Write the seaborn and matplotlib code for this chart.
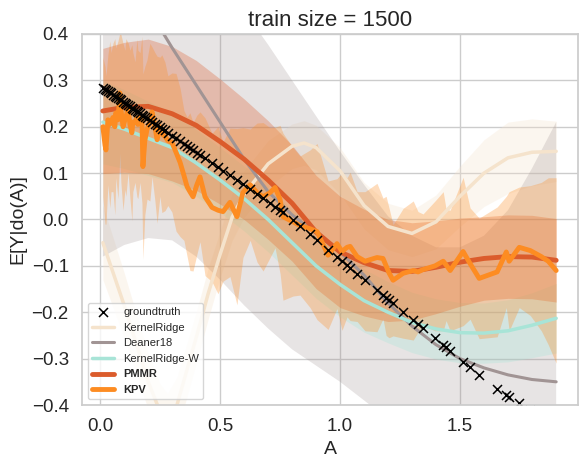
import numpy as np
import matplotlib
matplotlib.use("Agg")
import matplotlib.pyplot as plt
import seaborn as sns

# ---------------- data ----------------
# test points (shared by groundtruth and KPV)
A = [0.011, 0.020, 0.024, 0.032, 0.040, 0.045, 0.053, 0.061, 0.065, 0.074,
     0.082, 0.086, 0.095, 0.103, 0.107, 0.116, 0.124, 0.132, 0.136, 0.145,
     0.153, 0.157, 0.166, 0.174, 0.178, 0.186, 0.195, 0.207, 0.216, 0.228,
     0.237, 0.249, 0.257, 0.270, 0.282, 0.299, 0.316, 0.333, 0.349, 0.362,
     0.374, 0.387, 0.403, 0.416, 0.437, 0.466, 0.491, 0.512, 0.541, 0.570,
     0.595, 0.625, 0.654, 0.679, 0.708, 0.729, 0.750, 0.762, 0.804, 0.833,
     0.875, 0.904, 0.950, 0.987, 1.008, 1.029, 1.042, 1.071, 1.104, 1.154,
     1.179, 1.192, 1.204, 1.221, 1.263, 1.305, 1.325, 1.346, 1.396, 1.430,
     1.442, 1.459, 1.513, 1.542, 1.580, 1.655, 1.693, 1.705, 1.747, 1.793,
     1.839, 1.868, 1.901]

groundtruth = [0.284, 0.281, 0.279, 0.277, 0.274, 0.272, 0.269, 0.266, 0.265, 0.262,
               0.259, 0.257, 0.254, 0.251, 0.250, 0.247, 0.244, 0.241, 0.239, 0.236,
               0.233, 0.232, 0.229, 0.226, 0.224, 0.222, 0.218, 0.214, 0.211, 0.207,
               0.203, 0.199, 0.196, 0.192, 0.187, 0.181, 0.175, 0.169, 0.163, 0.159,
               0.154, 0.150, 0.144, 0.139, 0.132, 0.122, 0.113, 0.105, 0.095, 0.085,
               0.076, 0.065, 0.055, 0.046, 0.035, 0.028, 0.020, 0.016, -0.002, -0.014,
               -0.032, -0.045, -0.065, -0.080, -0.089, -0.098, -0.104, -0.117, -0.131, -0.152,
               -0.163, -0.169, -0.174, -0.181, -0.199, -0.217, -0.226, -0.235, -0.256, -0.271,
               -0.276, -0.283, -0.307, -0.319, -0.335, -0.365, -0.378, -0.382, -0.395, -0.410,
               -0.425, -0.435, -0.445]

kpv = [0.200, 0.160, 0.150, 0.215, 0.205, 0.210, 0.220, 0.200, 0.230, 0.215,
       0.273, 0.240, 0.200, 0.215, 0.220, 0.241, 0.205, 0.187, 0.210, 0.210,
       0.219, 0.205, 0.220, 0.215, 0.114, 0.170, 0.194, 0.210, 0.232, 0.200,
       0.172, 0.200, 0.185, 0.179, 0.170, 0.166, 0.145, 0.123, 0.095, 0.071,
       0.060, 0.049, 0.075, 0.092, 0.049, 0.026, 0.020, 0.017, 0.037, 0.006,
       0.058, 0.075, 0.058, 0.049, 0.058, 0.069, 0.043, 0.006, -0.005, -0.013,
       -0.020, -0.026, -0.077, -0.052, -0.069, -0.060, -0.058, -0.080, -0.090, -0.082,
       -0.084, -0.100, -0.115, -0.131, -0.116, -0.110, -0.113, -0.108, -0.100, -0.090,
       -0.098, -0.110, -0.069, -0.095, -0.127, -0.113, -0.070, -0.090, -0.060, -0.067,
       -0.080, -0.090, -0.110]

kpv_sd = [0.15, 0.17, 0.16, 0.14, 0.18, 0.15, 0.16, 0.19, 0.14, 0.17,
          0.13, 0.16, 0.18, 0.15, 0.17, 0.14, 0.16, 0.19, 0.15, 0.13,
          0.17, 0.16, 0.14, 0.18, 0.20, 0.16, 0.15, 0.17, 0.14, 0.16,
          0.18, 0.15, 0.17, 0.16, 0.14, 0.15, 0.17, 0.16, 0.14, 0.15,
          0.17, 0.16, 0.15, 0.14, 0.17, 0.16, 0.18, 0.15, 0.16, 0.19,
          0.14, 0.12, 0.15, 0.16, 0.14, 0.13, 0.16, 0.18, 0.16, 0.15,
          0.17, 0.19, 0.16, 0.14, 0.17, 0.15, 0.16, 0.14, 0.15, 0.16,
          0.13, 0.15, 0.14, 0.12, 0.14, 0.15, 0.13, 0.12, 0.14, 0.15,
          0.12, 0.13, 0.16, 0.12, 0.13, 0.14, 0.12, 0.15, 0.13, 0.14,
          0.16, 0.18, 0.20]

# smooth estimators on a coarse grid
grid = [0.011, 0.1, 0.2, 0.3, 0.4, 0.5, 0.6, 0.7, 0.8, 0.9,
        1.0, 1.1, 1.2, 1.3, 1.4, 1.5, 1.6, 1.7, 1.8, 1.901]

deaner = [0.62, 0.54, 0.455, 0.37, 0.29, 0.21, 0.13, 0.06, 0.01, -0.03,
          -0.07, -0.12, -0.18, -0.23, -0.27, -0.30, -0.32, -0.335, -0.345, -0.35]
deaner_lo = [-0.08, -0.055, -0.04, -0.045, -0.08, -0.13, -0.185, -0.235, -0.28, -0.315,
             -0.35, -0.39, -0.43, -0.48, -0.53, -0.6, -0.66, -0.73, -0.8, -0.9]
deaner_hi = [1.3, 1.15, 0.98, 0.82, 0.68, 0.56, 0.45, 0.377, 0.3, 0.223,
             0.147, 0.075, 0.007, -0.035, -0.06, -0.06, -0.035, 0.02, 0.11, 0.21]

krw = [0.21, 0.195, 0.175, 0.155, 0.122, 0.085, 0.045, 0.0, -0.05, -0.1,
       -0.14, -0.175, -0.2, -0.222, -0.236, -0.244, -0.245, -0.24, -0.228, -0.213]
krw_sd = [0.09, 0.085, 0.08, 0.075, 0.072, 0.07, 0.07, 0.07, 0.07, 0.07,
          0.07, 0.068, 0.066, 0.065, 0.065, 0.065, 0.065, 0.067, 0.07, 0.075]

pmmr = [0.234, 0.242, 0.244, 0.228, 0.203, 0.168, 0.13, 0.085, 0.035, -0.027,
        -0.07, -0.093, -0.11, -0.112, -0.103, -0.092, -0.084, -0.08, -0.081, -0.088]
pmmr_sd = [0.135, 0.14, 0.145, 0.145, 0.14, 0.135, 0.13, 0.128, 0.125, 0.122,
           0.12, 0.115, 0.11, 0.105, 0.1, 0.095, 0.09, 0.09, 0.09, 0.09]

kr_grid = [0.011, 0.1, 0.2, 0.25, 0.28, 0.32, 0.4, 0.45, 0.5, 0.55, 0.6, 0.7, 0.8,
           0.85, 0.9, 1.0, 1.1, 1.2, 1.3, 1.4, 1.5, 1.6, 1.7, 1.8, 1.901]
kr = [-0.05, -0.185, -0.35, -0.415, -0.435, -0.4, -0.255, -0.16, -0.075, 0.005, 0.055,
      0.12, 0.158, 0.165, 0.155, 0.105, 0.03, -0.015, -0.03, -0.005, 0.05, 0.1, 0.133,
      0.145, 0.147]
kr_sd = [0.08, 0.07, 0.06, 0.06, 0.06, 0.06, 0.055, 0.055, 0.05, 0.05, 0.05, 0.05, 0.048,
         0.048, 0.048, 0.05, 0.05, 0.05, 0.05, 0.058, 0.065, 0.072, 0.077, 0.072, 0.065]

labels = ["groundtruth", "KernelRidge", "Deaner18", "KernelRidge-W", "PMMR", "KPV"]
colors = {"KernelRidge": "#f5e3cc", "Deaner18": "#a19494", "KernelRidge-W": "#a8e4d7",
          "PMMR": "#db5c2c", "KPV": "#fd8c22"}

# ---------------- plot ----------------
sns.set_theme(style="whitegrid")
plt.rcParams["font.family"] = ["Liberation Sans", "DejaVu Sans"]

fig = plt.figure(figsize=(5.87, 4.65), dpi=100)
ax = fig.add_axes([82 / 587, 1 - 405 / 465, (578 - 82) / 587, (405 - 34) / 465])

sns.scatterplot(x=A, y=groundtruth, marker="x", color="black", s=42, linewidth=1.1,
                label=labels[0], ax=ax, zorder=2.5)

a = 0.3
# KernelRidge
ax.fill_between(kr_grid, np.array(kr) - np.array(kr_sd), np.array(kr) + np.array(kr_sd),
                color=colors["KernelRidge"], alpha=a, lw=0)
sns.lineplot(x=kr_grid, y=kr, color=colors["KernelRidge"], lw=2.5, label=labels[1], ax=ax)
# Deaner18
ax.fill_between(grid, deaner_lo, deaner_hi, color=colors["Deaner18"], alpha=0.25, lw=0)
sns.lineplot(x=grid, y=deaner, color=colors["Deaner18"], lw=2.2, label=labels[2], ax=ax)
# KernelRidge-W
ax.fill_between(grid, np.array(krw) - np.array(krw_sd), np.array(krw) + np.array(krw_sd),
                color=colors["KernelRidge-W"], alpha=a, lw=0)
sns.lineplot(x=grid, y=krw, color=colors["KernelRidge-W"], lw=2.5, label=labels[3], ax=ax)
# PMMR
ax.fill_between(grid, np.array(pmmr) - np.array(pmmr_sd), np.array(pmmr) + np.array(pmmr_sd),
                color=colors["PMMR"], alpha=a, lw=0)
sns.lineplot(x=grid, y=pmmr, color=colors["PMMR"], lw=3.5, label=labels[4], ax=ax)
# KPV
ax.fill_between(A, np.array(kpv) - np.array(kpv_sd), np.array(kpv) + np.array(kpv_sd),
                color=colors["KPV"], alpha=a, lw=0)
sns.lineplot(x=A, y=kpv, color=colors["KPV"], lw=3.5, label=labels[5], ax=ax)

ax.set_xlim(-0.076, 1.992)
ax.set_ylim(-0.4, 0.4)
ax.set_yticks([-0.4, -0.3, -0.2, -0.1, 0.0, 0.1, 0.2, 0.3, 0.4])
ax.set_xticks([0.0, 0.5, 1.0, 1.5])
ax.tick_params(labelsize=13.5)
ax.set_xlabel("A", fontsize=14)
ax.set_ylabel("E[Y|do(A)]", fontsize=14)
ax.set_title("train size = 1500", fontsize=16)

leg = ax.legend(loc="lower left", fontsize=8)
for t in leg.get_texts():
    if t.get_text() in ("PMMR", "KPV"):
        t.set_fontweight("bold")

fig.savefig("out.png", dpi=100)
